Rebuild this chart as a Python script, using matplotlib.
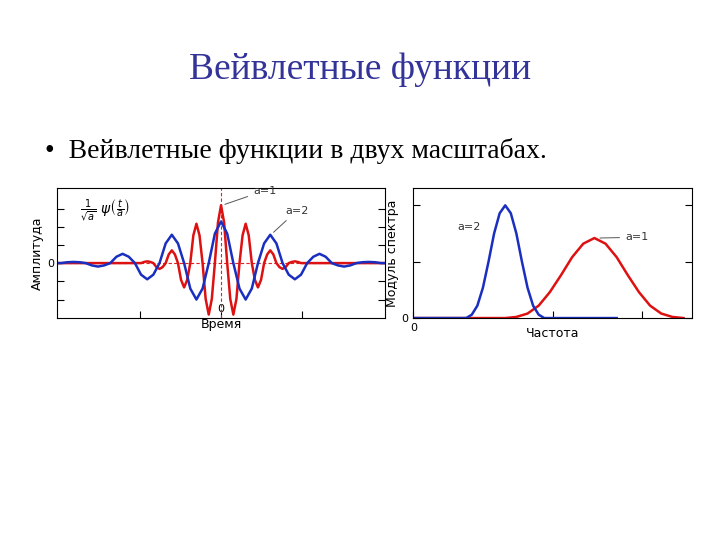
import matplotlib.pyplot as plt
import numpy as np

# wavelet in time, a=1 (red), sampled at eighths of its period, t >= 0 half
t_red = [0, .125, .25, .375, .5, .625, .75, .875, 1, 1.125, 1.25, 1.375, 1.5, 1.625, 1.75,
         1.875, 2, 2.125, 2.25, 2.375, 2.5, 2.625, 2.75, 2.875, 3, 3.125, 3.25, 3.5, 6.7]
v_red = [1.0, .7, 0, -.62, -.89, -.62, 0, .48, .68, .48, 0, -.29, -.42, -.29, 0,
         .15, .22, .15, 0, -.07, -.10, -.07, 0, .02, .03, .02, 0, 0, 0]
# wavelet in time, a=2 (blue)
t_blue = [0, .25, .5, .75, 1, 1.25, 1.5, 1.75, 2, 2.25, 2.5, 2.75, 3, 3.25, 3.5,
          3.75, 4, 4.25, 4.5, 4.75, 5, 5.25, 5.5, 5.75, 6, 6.25, 6.5, 6.7]
v_blue = [.72, .51, 0, -.44, -.63, -.44, 0, .34, .49, .34, 0, -.2, -.28, -.2, 0,
          .11, .16, .11, 0, -.04, -.06, -.04, 0, .015, .02, .015, 0, 0]

# spectrum magnitudes
f_blue = [0, 1.9, 2.1, 2.3, 2.5, 2.7, 2.9, 3.1, 3.3, 3.5, 3.7, 3.9, 4.1, 4.3, 4.5, 4.7, 7.3]
s_blue = [0, 0, .03, .11, .27, .5, .75, .93, 1.0, .93, .75, .5, .27, .11, .03, 0, 0]
f_red = [0, 3.3, 3.7, 4.1, 4.5, 4.9, 5.3, 5.7, 6.1, 6.5, 6.9, 7.3, 7.7, 8.1, 8.5, 8.9, 9.3, 9.7]
s_red = [0, 0, .01, .04, .11, .23, .38, .54, .66, .71, .66, .54, .38, .23, .11, .04, .01, 0]


def mirror(t, v):
    t = np.asarray(t)
    v = np.asarray(v)
    return np.concatenate([-t[:0:-1], t]), np.concatenate([v[:0:-1], v])


def main():
    fig = plt.figure(figsize=(7.2, 5.4), dpi=100)
    navy = '#333399'
    fig.text(0.5, 0.87, 'Вейвлетные функции', ha='center', va='center',
             fontsize=27, color=navy, family='Liberation Serif')
    fig.text(0.062, 0.72, '•  Вейвлетные функции в двух масштабах.', ha='left', va='center',
             fontsize=20, color='black', family='Liberation Serif')

    ax = fig.add_axes([0.079, 0.411, 0.456, 0.24])
    tr, vr = mirror(t_red, v_red)
    tb, vb = mirror(t_blue, v_blue)
    ax.axhline(0, color='#dd2222', ls='--', lw=0.8, dashes=(3, 2))
    ax.axvline(0, color='#dd2222', ls='--', lw=0.8, dashes=(3, 2))
    ax.plot(tr, vr, color='#dd1111', lw=1.8, solid_joinstyle='round')
    ax.plot(tb, vb, color='#1a2fbf', lw=1.8, solid_joinstyle='round')
    ax.set_xlim(-6.67, 6.67)
    ax.set_ylim(-0.95, 1.29)
    ax.set_yticks([-0.63, -0.314, 0, 0.314, 0.628, 0.942])
    ax.set_yticklabels(['', '', '0', '', '', ''])
    ax.set_xticks([-3.3, 0, 3.3])
    ax.set_xticklabels(['', '0', ''])
    ax.tick_params(direction='in', length=5, labelsize=8, pad=-10, right=True)
    ax.tick_params(axis='y', pad=2)
    ax.set_xlabel('Время', fontsize=9, labelpad=0)
    ax.set_ylabel('Амплитуда', fontsize=9, labelpad=2)
    ax.text(0.07, 0.82, r'$\frac{1}{\sqrt{a}}\ \psi\left(\frac{t}{a}\right)$',
            transform=ax.transAxes, fontsize=10, va='center')
    ax.annotate('a=1', xy=(0.05, 1.0), xytext=(1.3, 1.2), fontsize=8, color='#333333',
                arrowprops=dict(arrowstyle='-', color='#555555', lw=0.7))
    ax.annotate('a=2', xy=(2.05, 0.5), xytext=(2.6, 0.85), fontsize=8, color='#333333',
                arrowprops=dict(arrowstyle='-', color='#555555', lw=0.7))

    ax2 = fig.add_axes([0.574, 0.411, 0.387, 0.24])
    ax2.plot(f_red, s_red, color='#dd1111', lw=1.8, solid_joinstyle='round')
    ax2.plot(f_blue, s_blue, color='#1a2fbf', lw=1.8, solid_joinstyle='round')
    ax2.set_xlim(0, 10)
    ax2.set_ylim(0, 1.15)
    ax2.set_yticks([0, 0.5, 1.0])
    ax2.set_yticklabels(['0', '', ''])
    ax2.set_xticks([0, 5, 8.2])
    ax2.set_xticklabels(['0', '', ''])
    ax2.tick_params(direction='in', length=5, labelsize=8, right=True)
    ax2.set_xlabel('Частота', fontsize=9, labelpad=-4)
    ax2.set_ylabel('Модуль спектра', fontsize=9, labelpad=2)
    ax2.text(1.6, 0.78, 'a=2', fontsize=8, color='#333333')
    ax2.annotate('a=1', xy=(6.6, 0.71), xytext=(7.6, 0.69), fontsize=8, color='#333333',
                 arrowprops=dict(arrowstyle='-', color='#555555', lw=0.7))

    plt.savefig('out.png')


if __name__ == '__main__':
    main()
